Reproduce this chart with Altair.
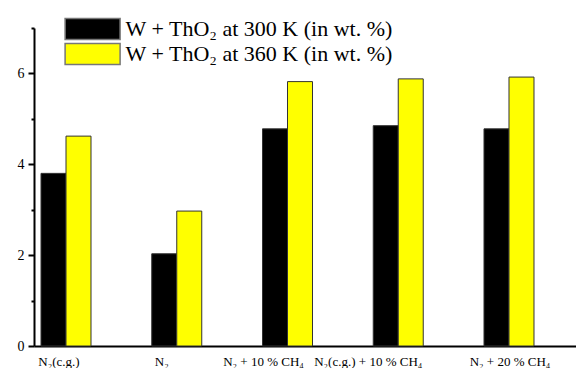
import altair as alt
import pandas as pd

categories = ["N₂(c.g.)", "N₂", "N₂ + 10 % CH₄", "N₂(c.g.) + 10 % CH₄", "N₂ + 20 % CH₄"]
series = ["W + ThO₂ at 300 K (in wt. %)", "W + ThO₂ at 360 K (in wt. %)"]
values_300 = [3.80, 2.03, 4.78, 4.85, 4.78]
values_360 = [4.62, 2.97, 5.82, 5.88, 5.92]
label_shift = [-7, -15, -24, -30, 1]

rows = []
for i, c in enumerate(categories):
    rows.append({"cat": c, "series": series[0], "order": 0, "value": values_300[i]})
    rows.append({"cat": c, "series": series[1], "order": 1, "value": values_360[i]})
df = pd.DataFrame(rows)

FONT = "Liberation Serif"
rect_path = "M-4,-1.53H4V1.53H-4Z"

offset_cond = {
    "condition": [{"test": f"datum.value == '{c}'", "value": s}
                  for c, s in zip(categories, label_shift)],
    "value": 0,
}

chart = alt.Chart(df).mark_bar(stroke="#333333", strokeWidth=1).encode(
    x=alt.X("cat:N", sort=categories, title=None,
            scale=alt.Scale(paddingInner=0.5485, paddingOuter=0.2213, align=0.143),
            axis=alt.Axis(labelAngle=0, labelFontSize=13, labelColor="black",
                          ticks=False, domainColor="black", domainWidth=2,
                          labelPadding=9, labelLimit=200, labelOffset=offset_cond)),
    xOffset=alt.XOffset("series:N", sort=series),
    y=alt.Y("value:Q", title=None,
            scale=alt.Scale(domain=[0, 7], nice=False),
            axis=alt.Axis(values=[0, 1, 2, 3, 4, 5, 6, 7], grid=False,
                          labelExpr="datum.value % 2 == 0 ? datum.label : ''",
                          labelFontSize=14, labelColor="black",
                          tickColor="black", tickWidth=2,
                          tickSize={"condition": {"test": "datum.value % 2 == 0", "value": 6}, "value": 3},
                          labelPadding=4, domainColor="black", domainWidth=2)),
    color=alt.Color("series:N", sort=series,
                    scale=alt.Scale(domain=series, range=["#000000", "#ffff00"]),
                    legend=alt.Legend(title=None, orient="none", legendX=47.6, legendY=-10,
                                      symbolType=rect_path, symbolSize=189,
                                      symbolStrokeColor="#777777", symbolStrokeWidth=1.5,
                                      symbolOpacity=1,
                                      labelFontSize=22, labelColor="black",
                                      labelOffset=22, rowPadding=-5.5, padding=0,
                                      labelLimit=400)),
).properties(
    width=542, height=318,
    autosize=alt.AutoSizeParams(type="none"),
    padding={"left": 26, "top": 20, "right": 0, "bottom": 22},
).configure(font=FONT).configure_axis(labelFont=FONT).configure_legend(labelFont=FONT).configure_view(stroke=None)

chart.save("out.html", embed_options={"renderer": "svg", "actions": False})
